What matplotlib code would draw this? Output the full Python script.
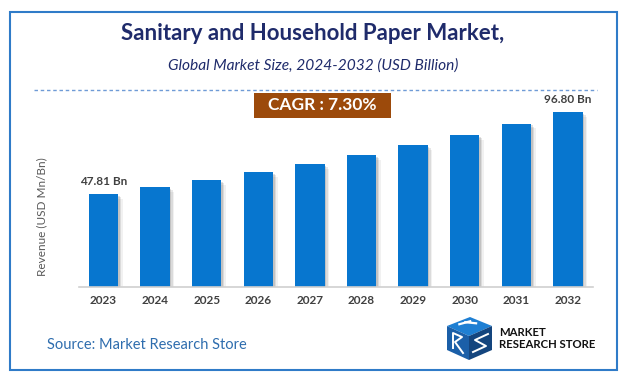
import matplotlib
matplotlib.use("Agg")
import matplotlib.pyplot as plt
from matplotlib.patches import Rectangle, Polygon
import numpy as np

plt.rcParams['font.family'] = ['Lato', 'DejaVu Sans']

# ---- data ----
years = ["2023", "2024", "2025", "2026", "2027", "2028", "2029", "2030", "2031", "2032"]
values = [47.81, 51.9, 56.3, 60.9, 65.7, 71.1, 77.1, 83.2, 89.8, 96.80]
value_labels = {0: "47.81 Bn", 9: "96.80 Bn"}
title = "Sanitary and Household Paper Market,"
subtitle = "Global Market Size, 2024-2032 (USD Billion)"
cagr_text = "CAGR : 7.30%"
ylabel = "Revenue (USD Mn/Bn)"
source = "Source: Market Research Store"

W, H = 628, 382
fig = plt.figure(figsize=(W / 100, H / 100), dpi=100)
fig.patch.set_facecolor("white")

# overlay axes in pixel coordinates for decorations
ov = fig.add_axes([0, 0, 1, 1], zorder=0)
ov.set_xlim(0, W)
ov.set_ylim(H, 0)
ov.axis("off")

# border
ov.add_patch(Rectangle((10, 12), 607, 358, fill=False, edgecolor="#2F7BC8", linewidth=1.5))

# titles
ov.text(313, 33, title, ha="center", va="center", fontsize=16, fontweight="bold", color="#1F2B6B")
ov.text(313, 66, subtitle, ha="center", va="center", fontsize=11.2, style="italic", color="#1F2B6B")
ov.plot([34, 597], [90, 90], linestyle=(0, (2.5, 2)), color="#6F9BD6", linewidth=1.0)

# CAGR box
ov.add_patch(Rectangle((254, 93), 137, 25, facecolor="#9C4A0B", edgecolor="none"))
ov.text(322.5, 105.5, cagr_text, ha="center", va="center", fontsize=12.5, fontweight="bold", color="white")

# source
ov.text(47, 345, source, ha="left", va="center", fontsize=10.5, color="#2E6DAE")

# logo cube
top = Polygon([(447, 326), (470, 317), (492, 326), (469, 336)], closed=True, facecolor="#1E7FD3", edgecolor="none")
left = Polygon([(447, 326), (469, 336), (469, 360), (447, 350)], closed=True, facecolor="#1B5FA8", edgecolor="none")
right = Polygon([(469, 336), (492, 326), (492, 350), (469, 360)], closed=True, facecolor="#14457E", edgecolor="none")
for p in (top, left, right):
    ov.add_patch(p)
for s in (0.33, 0.6):
    ov.plot([447 + 22 * s + 4, 470 + 22 * s - 6], [326 - 9 * s + 1.5, 317 + 9 * s + 1.0],
            color="white", linewidth=1.6, solid_capstyle="butt")
ov.plot([453, 453, 462, 455, 463], [348, 333, 337, 342, 353], color="white", linewidth=1.4)
ov.plot([488, 475, 486, 473], [334, 340, 346, 352], color="white", linewidth=1.4)
ov.text(499, 333, "MARKET", ha="left", va="center", fontsize=8.2, fontweight="bold", color="#111111")
ov.text(499, 344, "RESEARCH STORE", ha="left", va="center", fontsize=8.2, fontweight="bold", color="#111111")

# ---- bar chart axes ----
ax_left, ax_right = 79, 593
ax_top, ax_bot = 95, 287
ax = fig.add_axes([ax_left / W, (H - ax_bot) / H, (ax_right - ax_left) / W, (ax_bot - ax_top) / H], zorder=1)
ax.patch.set_alpha(0)

px_x = 51.6          # pixels per category
px_y = 1.674         # pixels per unit
zero_px = 274.3
ymin = -(ax_bot - zero_px) / px_y
ymax = ymin + (ax_bot - ax_top) / px_y
xmin = -(103.5 - ax_left) / px_x
xmax = xmin + (ax_right - ax_left) / px_x
ax.set_xlim(xmin, xmax)
ax.set_ylim(ymin, ymax)

x = np.arange(len(years))
vals = np.array(values)
bw = 0.57

# soft shadow
for off, a in [(1.5, 0.18), (3.0, 0.14), (4.5, 0.08)]:
    ax.bar(x + off / px_x, vals - ymin - off / px_y, bottom=ymin, width=bw,
           color="#555555", alpha=a, linewidth=0, zorder=1)
ax.bar(x, vals - ymin, bottom=ymin, width=bw, color="#0776CF", linewidth=0, zorder=2)

for i, lab in value_labels.items():
    ax.text(x[i], vals[i] + 4.5, lab, ha="center", va="bottom", fontsize=8.5,
            fontweight="bold", color="#404040", clip_on=False)

ax.set_xticks(x)
ax.set_xticklabels(years, fontsize=8.5, fontweight="bold", color="#404040")
ax.tick_params(axis="x", length=0, pad=6)
ax.set_yticks([])
for s in ("top", "right", "left"):
    ax.spines[s].set_visible(False)
ax.spines["bottom"].set_color("#D0D0D0")
ax.spines["bottom"].set_linewidth(1.2)

ov.text(42, 217, ylabel, ha="center", va="center", rotation=90, fontsize=8.5, color="#595959")

fig.savefig("out.png", dpi=100, facecolor="white")
